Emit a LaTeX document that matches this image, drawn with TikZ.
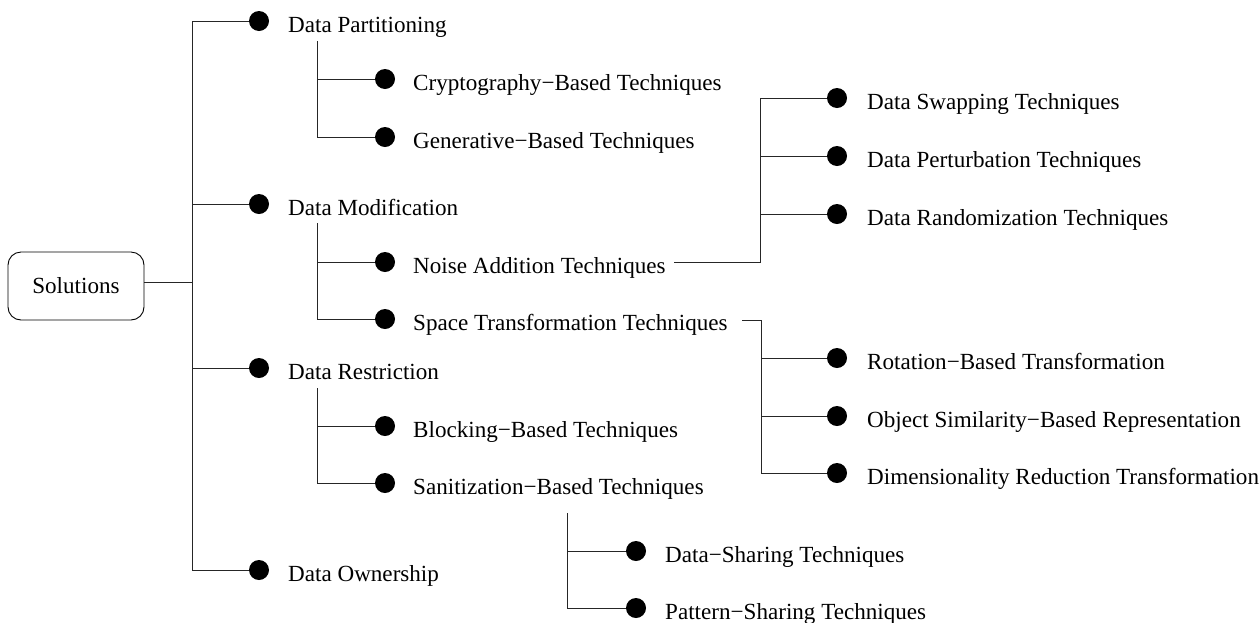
\documentclass[tikz,border=0pt]{standalone}
\usepackage{fontspec}
\setmainfont{Liberation Serif}
\begin{document}
\begin{tikzpicture}[x=1pt,y=-1pt,
  font=\fontsize{23.1}{27}\selectfont,
  wire/.style={line width=0.9pt, draw=black!85},
  dot/.style={circle, fill=black, inner sep=0pt, minimum size=20pt},
  lbl/.style={anchor=base west, inner sep=0pt},
  rootbox/.style={draw, line width=0.9pt, rounded corners=13pt,
                  minimum width=136pt, minimum height=68pt, inner sep=0pt}]
\useasboundingbox (0,0) rectangle (1260,622);

% root
\node[rootbox] (sol) at (76,286) {Solutions};

% first level
\coordinate (trunk) at (192,0);
\node[dot] (dA) at (259,21)  {};
\node[dot] (dB) at (259,204) {};
\node[dot] (dC) at (259,368) {};
\node[dot] (dD) at (259,570) {};
\node[lbl] (lA) at (288,32)  {Data Partitioning};
\node[lbl] (lB) at (288,215) {Data Modification};
\node[lbl] (lC) at (288,379) {Data Restriction};
\node[lbl] (lD) at (288,581) {Data Ownership};

\draw[wire] (dA) -| (trunk |- dD) -- (dD);
\draw[wire] (dB) -- (trunk |- dB);
\draw[wire] (dC) -- (trunk |- dC);
\draw[wire] ([yshift=4pt]sol.east) -- (trunk |- 0,282);

% second level: partitioning
\coordinate (pTop) at (317,41);
\node[dot] (dA1) at (385,79)  {};
\node[dot] (dA2) at (385,137) {};
\node[lbl] (lA1) at (413,90)  {Cryptography−Based Techniques};
\node[lbl] (lA2) at (413,148) {Generative−Based Techniques};
\draw[wire] (pTop) |- (dA2);
\draw[wire] (dA1) -- (pTop |- dA1);

% second level: modification
\coordinate (mTop) at (317,223);
\node[dot] (dB1) at (385,262) {};
\node[dot] (dB2) at (385,319) {};
\node[lbl] (lB1) at (413,273) {Noise Addition Techniques};
\node[lbl] (lB2) at (413,330) {Space Transformation Techniques};
\draw[wire] (mTop) |- (dB2);
\draw[wire] (dB1) -- (mTop |- dB1);

% second level: restriction
\coordinate (rTop) at (317,388);
\node[dot] (dC1) at (385,426) {};
\node[dot] (dC2) at (385,483) {};
\node[lbl] (lC1) at (413,437) {Blocking−Based Techniques};
\node[lbl] (lC2) at (413,494) {Sanitization−Based Techniques};
\draw[wire] (rTop) |- (dC2);
\draw[wire] (dC1) -- (rTop |- dC1);

% third level: noise addition
\coordinate (nStart) at (674,262);
\coordinate (nBus) at (760,0);
\node[dot] (dN1) at (837,98)  {};
\node[dot] (dN2) at (837,156) {};
\node[dot] (dN3) at (837,214) {};
\node[lbl] (lN1) at (867,109) {Data Swapping Techniques};
\node[lbl] (lN2) at (867,167) {Data Perturbation Techniques};
\node[lbl] (lN3) at (867,225) {Data Randomization Techniques};
\draw[wire] (nStart) -| (nBus |- dN1) -- (dN1);
\draw[wire] (dN2) -- (nBus |- dN2);
\draw[wire] (dN3) -- (nBus |- dN3);

% third level: space transformation
\coordinate (sStart) at (742,320);
\coordinate (sBus) at (761,0);
\node[dot] (dS1) at (837,358) {};
\node[dot] (dS2) at (837,416) {};
\node[dot] (dS3) at (837,473) {};
\node[lbl] (lS1) at (867,369) {Rotation−Based Transformation};
\node[lbl] (lS2) at (867,427) {Object Similarity−Based Representation};
\node[lbl] (lS3) at (867,484) {Dimensionality Reduction Transformation};
\draw[wire] (sStart) -| (sBus |- dS3) -- (dS3);
\draw[wire] (dS1) -- (sBus |- dS1);
\draw[wire] (dS2) -- (sBus |- dS2);

% third level: sanitization
\coordinate (zTop) at (567,513);
\node[dot] (dZ1) at (636,551) {};
\node[dot] (dZ2) at (636,608) {};
\node[lbl] (lZ1) at (665,562) {Data−Sharing Techniques};
\node[lbl] (lZ2) at (665,619) {Pattern−Sharing Techniques};
\draw[wire] (zTop) |- (dZ2);
\draw[wire] (dZ1) -- (zTop |- dZ1);
\end{tikzpicture}
\end{document}
